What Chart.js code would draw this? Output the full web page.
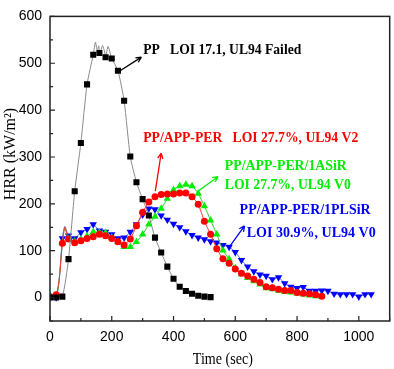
<!DOCTYPE html>
<html>
<head>
<meta charset="utf-8">
<script src="https://cdn.jsdelivr.net/npm/chart.js@4.4.1/dist/chart.umd.min.js"></script>
<style>
html,body{margin:0;padding:0;background:#fff;}
#wrap{width:394px;height:369px;position:relative;}
</style>
</head>
<body>
<div id="wrap"><canvas id="c" width="394" height="369"></canvas></div>
<script>
// ---- data ----
const xTickLabels = [0, 200, 400, 600, 800, 1000];
const yTickLabels = [0, 100, 200, 300, 400, 500, 600];

// PP (black squares every 20 s; extra samples for the noisy peak of the grey curve)
const ppTime = [0,20,40,60,80,100,120,140,147,153,158,160,165,170,177,180,188,200,220,240,260,280,300,320,340,360,380,400,420,440,460,480,500,520];
const ppHRR  = [0,0,2,82,227,330,455,518,545,528,537,522,528,538,524,513,536,510,484,420,301,246,210,175,128,96,66,40,23,14,8,4,2,1];

// PP/APP-PER (red circles)
const redTime = [0,20,30,40,48,60,80,100,120,140,160,180,200,220,240,260,280,300,320,340,360,380,400,420,440,460,480,500,520,540,560,580,600,620,640,660,680,700,720,740,760,780,800,820,840,860,880];
const redHRR  = [2,6,40,116,150,125,117,121,126,130,135,132,126,119,112,125,153,182,204,215,220,221,221,223,223,215,199,163,135,104,83,73,61,52,46,39,32,23,21,18,15,15,11,9,8,6,3];

// PP/APP-PER/1ASiR (green triangles)
const greenTime = [0,20,30,40,48,60,80,100,120,140,160,180,200,220,240,260,280,300,320,340,360,380,400,420,440,460,480,500,520,540,560,580,600,620,640,660,680,700,720,740,760,780,800,820,840,860,880];
const greenHRR  = [4,3,40,117,150,125,120,124,131,140,139,138,128,119,108,108,119,135,156,173,190,211,230,238,241,238,222,195,165,135,101,82,63,50,42,35,28,20,18,15,12,11,9,7,5,3,2];

// PP/APP-PER/1PLSiR (blue down-triangles)
const blueTime = [0,20,30,40,48,60,80,100,120,140,160,180,200,220,240,260,280,300,320,340,360,380,400,420,440,460,480,500,520,540,560,580,600,620,640,660,680,700,720,740,760,780,800,820,840,860,880,900,920,940,960,980,1000,1020,1040];
const blueHRR  = [0,0,40,126,152,132,126,139,146,156,143,140,135,126,128,140,156,177,190,188,175,166,157,150,141,133,128,124,120,117,112,108,97,80,66,56,49,46,39,43,30,23,20,22,14,14,15,14,8,7,7,7,2,7,7];

const seriesNames = ['PP', 'PP/APP-PER', 'PP/APP-PER/1ASiR', 'PP/APP-PER/1PLSiR'];

// annotation texts (positions in data units)
const annotations = [
  {lines:['PP   LOI 17.1, UL94 Failed'], color:'#000000', x:302, y:[527], w:[158], arrow:[222,482,296,513]},
  {lines:['PP/APP-PER   LOI 27.7%, UL94 V2'], color:'#ff0000', x:302, y:[341], w:[215], arrow:[341,227,360,308]},
  {lines:['PP/APP-PER/1ASiR','LOI 27.7%, UL94 V0'], color:'#00ee00', x:566, y:[281,240], w:[122,126], arrow:[479,227,544,258], x2:566},
  {lines:['PP/APP-PER/1PLSiR','LOI 30.9%, UL94 V0'], color:'#0000ff', x:614, y:[186,138], w:[131,129], arrow:[582,109,630,153], x2:637}
];

function pts(t, v){ return t.map((x,i)=>({x:x, y:v[i]})); }
const markerOnly = (r) => (ctx) => (ctx.raw && ctx.raw.x % 20 === 0) ? r : 0;

const framePlugin = {
  id:'frame',
  afterDatasetsDraw(chart){
    const {ctx, chartArea:a, scales:{x, y}} = chart;
    ctx.save();
    ctx.strokeStyle = '#222';
    ctx.lineWidth = 1.5;
    ctx.strokeRect(a.left, a.top, a.right - a.left, a.bottom - a.top);
    ctx.lineWidth = 1.2;
    ctx.beginPath();
    for (let v = 0; v <= 1100; v += 100){
      const px = x.getPixelForValue(v);
      const L = (v % 200 === 0) ? 5 : 3;
      ctx.moveTo(px, a.bottom); ctx.lineTo(px, a.bottom - L);
    }
    for (let v = -50; v <= 600; v += 50){
      const py = y.getPixelForValue(v);
      const L = (v % 100 === 0) ? 5 : 3;
      ctx.moveTo(a.left, py); ctx.lineTo(a.left + L, py);
    }
    ctx.stroke();

    // annotations
    ctx.font = 'bold 15px "Liberation Serif", "Times New Roman", serif';
    ctx.textBaseline = 'middle';
    ctx.textAlign = 'left';
    annotations.forEach(an => {
      ctx.fillStyle = an.color;
      ctx.strokeStyle = an.color;
      an.lines.forEach((t, i) => {
        const lx = x.getPixelForValue(i === 1 && an.x2 ? an.x2 : an.x);
        ctx.fillText(t, lx, y.getPixelForValue(an.y[i]), an.w[i]);
      });
      const [x1,y1,x2,y2] = an.arrow;
      const p1 = [x.getPixelForValue(x1), y.getPixelForValue(y1)];
      const p2 = [x.getPixelForValue(x2), y.getPixelForValue(y2)];
      ctx.lineWidth = 1.3;
      ctx.beginPath();
      ctx.moveTo(p1[0], p1[1]); ctx.lineTo(p2[0], p2[1]);
      const ang = Math.atan2(p2[1]-p1[1], p2[0]-p1[0]);
      const h = 6;
      ctx.moveTo(p2[0], p2[1]);
      ctx.lineTo(p2[0] - h*Math.cos(ang - 0.45), p2[1] - h*Math.sin(ang - 0.45));
      ctx.moveTo(p2[0], p2[1]);
      ctx.lineTo(p2[0] - h*Math.cos(ang + 0.45), p2[1] - h*Math.sin(ang + 0.45));
      ctx.stroke();
    });

    // axis titles
    ctx.fillStyle = '#000';
    ctx.font = '16px "Liberation Serif", "Times New Roman", serif';
    ctx.textAlign = 'center';
    ctx.fillText('Time (sec)', (a.left + a.right)/2 + 3, 360, 60);
    ctx.save();
    ctx.translate(11, 154);
    ctx.rotate(-Math.PI/2);
    ctx.fillText('HRR (kW/m\u00B2)', 0, 0, 118);
    ctx.restore();
    ctx.restore();
  }
};

new Chart(document.getElementById('c'), {
  type:'line',
  data:{
    datasets:[
      {label:seriesNames[0], data:pts(ppTime, ppHRR), borderColor:'#8a8a8a', borderWidth:1,
       pointStyle:'rect', pointRadius:markerOnly(4.3), backgroundColor:'#000', pointBorderColor:'#000', pointBorderWidth:0, tension:0.2},
      {label:seriesNames[1], data:pts(redTime, redHRR), borderColor:'#ff3030', borderWidth:1,
       pointStyle:'circle', pointRadius:markerOnly(3.5), backgroundColor:'#ff0000', pointBorderColor:'#ff0000', pointBorderWidth:0, tension:0.2},
      {label:seriesNames[2], data:pts(greenTime, greenHRR), borderColor:'#30d030', borderWidth:1,
       pointStyle:'triangle', pointRadius:markerOnly(4.3), backgroundColor:'#00ee00', pointBorderColor:'#00ee00', pointBorderWidth:0, tension:0.2},
      {label:seriesNames[3], data:pts(blueTime, blueHRR), borderColor:'#5070ff', borderWidth:1,
       pointStyle:'triangle', rotation:180, pointRadius:markerOnly(4.3), backgroundColor:'#0000ff', pointBorderColor:'#0000ff', pointBorderWidth:0, tension:0.2}
    ]
  },
  options:{
    responsive:false, animation:false, devicePixelRatio:1,
    layout:{padding:{top:7, right:2, left:0, bottom:0}},
    plugins:{legend:{display:false}, tooltip:{enabled:false}},
    elements:{point:{hoverRadius:0}},
    scales:{
      x:{type:'linear', min:0, max:1100,
         afterBuildTicks:s=>{ s.ticks = xTickLabels.map(v=>({value:v})); },
         afterFit:s=>{ s.height = 48; },
         grid:{display:false, drawTicks:false}, border:{display:false},
         ticks:{padding:8, color:'#000', callback:v=>String(v), font:{family:'"Liberation Sans", Arial, sans-serif', size:14}, maxRotation:0}},
      y:{type:'linear', min:-50, max:600,
         afterBuildTicks:s=>{ s.ticks = yTickLabels.map(v=>({value:v})); },
         afterFit:s=>{ s.width = 50; },
         grid:{display:false, drawTicks:false}, border:{display:false},
         ticks:{padding:8, color:'#000', callback:v=>String(v), font:{family:'"Liberation Sans", Arial, sans-serif', size:14}}}
    }
  },
  plugins:[framePlugin]
});
</script>
</body>
</html>
